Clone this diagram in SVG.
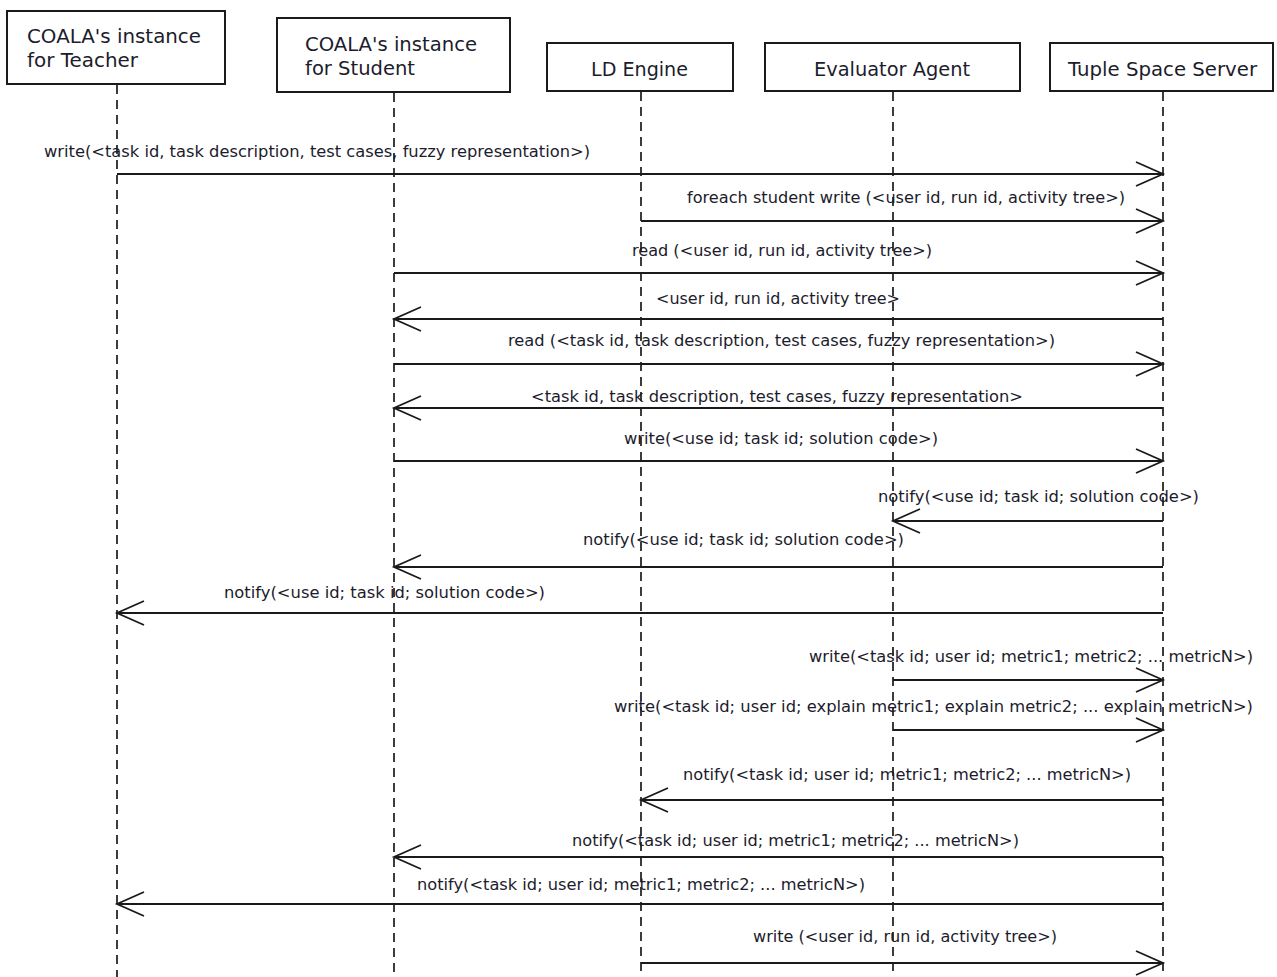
<svg xmlns="http://www.w3.org/2000/svg" width="1277" height="977" viewBox="0 0 1277 977">
<defs>
<style>
.box{fill:#fff;stroke:#1a1a1a;stroke-width:2}
.hd{font-family:"DejaVu Sans","Liberation Sans",sans-serif;font-size:20px;fill:#1c1c2c}
.life{stroke:#1a1a1a;stroke-width:1.7;stroke-dasharray:9 6;fill:none}
.msg{stroke:#1a1a1a;stroke-width:1.8;fill:none;marker-end:url(#open)}
.lb{font-family:"DejaVu Sans","Liberation Sans",sans-serif;font-size:15.5px;fill:#1c1c2c}
</style>
<marker id="open" markerUnits="userSpaceOnUse" markerWidth="32" markerHeight="30" refX="29" refY="14" orient="auto">
<path d="M2,2 L29,14 L2,26" fill="none" stroke="#1a1a1a" stroke-width="1.8"/>
</marker>
</defs>
<rect width="1277" height="977" fill="#fff"/>
<g id="lifelines">
<line class="life" x1="117" y1="85" x2="117" y2="977"/>
<line class="life" x1="394" y1="93" x2="394" y2="977"/>
<line class="life" x1="641" y1="92" x2="641" y2="977"/>
<line class="life" x1="893" y1="92" x2="893" y2="977"/>
<line class="life" x1="1163" y1="92" x2="1163" y2="977"/>
</g>
<g id="teacher">
<rect class="box" x="7" y="11" width="218" height="73"/>
<text class="hd" x="27" y="43" textLength="174" lengthAdjust="spacingAndGlyphs">COALA's instance</text>
<text class="hd" x="27" y="67" textLength="111" lengthAdjust="spacingAndGlyphs">for Teacher</text>
</g>
<g id="student">
<rect class="box" x="277" y="18" width="233" height="74"/>
<text class="hd" x="305" y="51" textLength="172" lengthAdjust="spacingAndGlyphs">COALA's instance</text>
<text class="hd" x="305" y="75" textLength="110" lengthAdjust="spacingAndGlyphs">for Student</text>
</g>
<g id="ldengine">
<rect class="box" x="547" y="43" width="186" height="48"/>
<text class="hd" x="591" y="76" textLength="97" lengthAdjust="spacingAndGlyphs">LD Engine</text>
</g>
<g id="evaluator">
<rect class="box" x="765" y="43" width="255" height="48"/>
<text class="hd" x="814" y="76" textLength="156" lengthAdjust="spacingAndGlyphs">Evaluator Agent</text>
</g>
<g id="tuplespace">
<rect class="box" x="1050" y="43" width="223" height="48"/>
<text class="hd" x="1068" y="76" textLength="189" lengthAdjust="spacingAndGlyphs">Tuple Space Server</text>
</g>
<g id="connectors">
<line class="msg" x1="117" y1="174" x2="1163" y2="174"/>
<line class="msg" x1="641" y1="221" x2="1163" y2="221"/>
<line class="msg" x1="394" y1="273" x2="1163" y2="273"/>
<line class="msg" x1="1163" y1="319" x2="394" y2="319"/>
<line class="msg" x1="394" y1="364" x2="1163" y2="364"/>
<line class="msg" x1="1163" y1="408" x2="394" y2="408"/>
<line class="msg" x1="394" y1="461" x2="1163" y2="461"/>
<line class="msg" x1="1163" y1="521" x2="893" y2="521"/>
<line class="msg" x1="1163" y1="567" x2="394" y2="567"/>
<line class="msg" x1="1163" y1="613" x2="117" y2="613"/>
<line class="msg" x1="893" y1="680" x2="1163" y2="680"/>
<line class="msg" x1="893" y1="730" x2="1163" y2="730"/>
<line class="msg" x1="1163" y1="800" x2="641" y2="800"/>
<line class="msg" x1="1163" y1="857" x2="394" y2="857"/>
<line class="msg" x1="1163" y1="904" x2="117" y2="904"/>
<line class="msg" x1="641" y1="963" x2="1163" y2="963"/>
</g>
<g id="labels">
<text class="lb" x="44" y="157" textLength="546" lengthAdjust="spacingAndGlyphs">write(&lt;task id, task description, test cases, fuzzy representation&gt;)</text>
<text class="lb" x="687" y="203" textLength="438" lengthAdjust="spacingAndGlyphs">foreach student write (&lt;user id, run id, activity tree&gt;)</text>
<text class="lb" x="632" y="256" textLength="300" lengthAdjust="spacingAndGlyphs">read (&lt;user id, run id, activity tree&gt;)</text>
<text class="lb" x="656" y="304" textLength="244" lengthAdjust="spacingAndGlyphs">&lt;user id, run id, activity tree&gt;</text>
<text class="lb" x="508" y="346" textLength="547" lengthAdjust="spacingAndGlyphs">read (&lt;task id, task description, test cases, fuzzy representation&gt;)</text>
<text class="lb" x="531" y="402" textLength="492" lengthAdjust="spacingAndGlyphs">&lt;task id, task description, test cases, fuzzy representation&gt;</text>
<text class="lb" x="624" y="444" textLength="314" lengthAdjust="spacingAndGlyphs">write(&lt;use id; task id; solution code&gt;)</text>
<text class="lb" x="878" y="502" textLength="321" lengthAdjust="spacingAndGlyphs">notify(&lt;use id; task id; solution code&gt;)</text>
<text class="lb" x="583" y="545" textLength="321" lengthAdjust="spacingAndGlyphs">notify(&lt;use id; task id; solution code&gt;)</text>
<text class="lb" x="224" y="598" textLength="321" lengthAdjust="spacingAndGlyphs">notify(&lt;use id; task id; solution code&gt;)</text>
<text class="lb" x="809" y="662" textLength="444" lengthAdjust="spacingAndGlyphs">write(&lt;task id; user id; metric1; metric2; ... metricN&gt;)</text>
<text class="lb" x="614" y="712" textLength="639" lengthAdjust="spacingAndGlyphs">write(&lt;task id; user id; explain metric1; explain metric2; ... explain metricN&gt;)</text>
<text class="lb" x="683" y="780" textLength="448" lengthAdjust="spacingAndGlyphs">notify(&lt;task id; user id; metric1; metric2; ... metricN&gt;)</text>
<text class="lb" x="572" y="846" textLength="447" lengthAdjust="spacingAndGlyphs">notify(&lt;task id; user id; metric1; metric2; ... metricN&gt;)</text>
<text class="lb" x="417" y="890" textLength="448" lengthAdjust="spacingAndGlyphs">notify(&lt;task id; user id; metric1; metric2; ... metricN&gt;)</text>
<text class="lb" x="753" y="942" textLength="304" lengthAdjust="spacingAndGlyphs">write (&lt;user id, run id, activity tree&gt;)</text>
</g>
</svg>
